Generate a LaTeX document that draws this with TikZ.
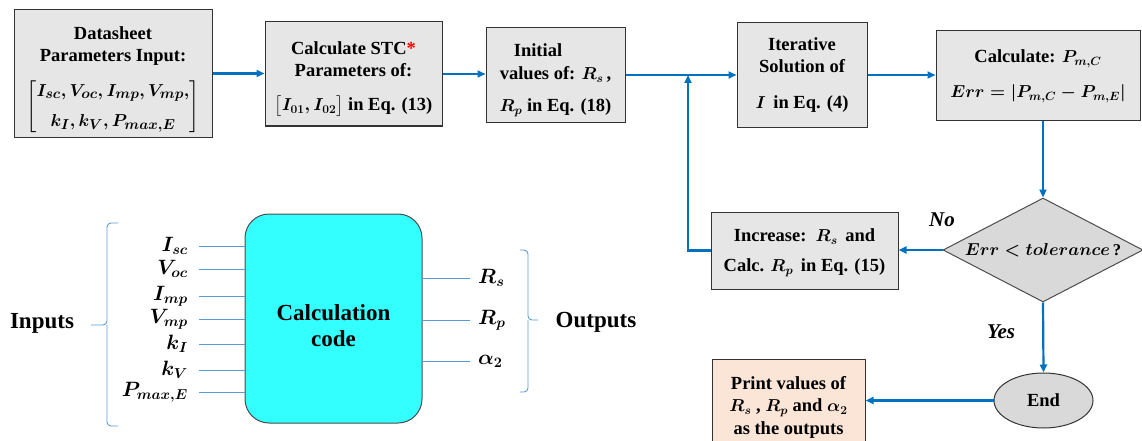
\documentclass[tikz,border=0pt]{standalone}
\usepackage{fontspec}
\setmainfont{Liberation Serif}
\usepackage{amsmath}
\usepackage{bm}
\usetikzlibrary{shapes.geometric,arrows.meta,calc}
\definecolor{flowblue}{RGB}{0,112,192}
\definecolor{boxgray}{RGB}{230,230,230}
\definecolor{diagray}{RGB}{217,217,217}
\definecolor{peach}{RGB}{251,229,214}
\definecolor{cyanbox}{RGB}{51,255,255}
\definecolor{thinblue}{RGB}{91,155,213}
\begin{document}
\begin{tikzpicture}[x=1pt,y=-1pt,
  font=\fontsize{18.5}{22}\selectfont\bfseries\boldmath,
  box/.style={draw=black!80, line width=1pt, fill=boxgray, align=center, inner sep=0pt},
  flow/.style={draw=flowblue, line width=2.2pt, -{Triangle[length=8pt,width=7pt]}},
  thinline/.style={draw=thinblue, line width=0.9pt},
  lbl/.style={inner sep=0pt, font=\fontsize{19.5}{22}\selectfont\boldmath},
  big/.style={font=\fontsize{23}{26}\selectfont\bfseries, align=center},
  yesno/.style={font=\fontsize{21}{24}\selectfont\bfseries\itshape}
]
\useasboundingbox (0,0) rectangle (1142,441);

% ---- flowchart ----
\node[box, minimum width=198pt, minimum height=127pt] (ds) at (113,73.5)
  {\rule{0pt}{25pt}Datasheet\\Parameters Input:\\[14pt]{\fontsize{19}{23}\selectfont$\left[\begin{array}{@{}c@{}}\bm{I_{sc},V_{oc},I_{mp},V_{mp},}\\[7pt]\bm{k_I,k_V,P_{max,E}}\end{array}\right]$}};
\node[box, minimum width=177pt, minimum height=104pt] (stc) at (353.5,74)
  {\rule{0pt}{23pt}Calculate STC\textcolor{red}{*}\\Parameters of:\\[12pt]$\bigl[\bm{I_{01}},\bm{I_{02}}\bigr]$ in Eq. (13)};
\node[box, minimum width=139pt, minimum height=95pt] (init) at (555.5,75)
  {\rule{0pt}{23pt}\hspace*{-35pt}Initial\\[1pt]values of: $\bm{R_s}$\,,\\[10pt]$\bm{R_p}$ in Eq. (18)};
\node[box, minimum width=130pt, minimum height=104pt] (iter) at (802,75)
  {Iterative\\Solution of\\[14pt]$\bm{I}$\, in Eq. (4)};
\node[box, minimum width=204pt, minimum height=90pt] (calc) at (1038,76)
  {Calculate: $\bm{P_{m,C}}$\\[13pt]$\bm{Err=|P_{m,C}-P_{m,E}|}$};
\node[box, minimum width=187pt, minimum height=77pt] (inc) at (804.5,250.5)
  {\rule{0pt}{17pt}Increase:\, $\bm{R_s}$\, and\\[8pt]Calc. $\bm{R_p}$\, in Eq. (15)};
\node[diamond, shape aspect=1.92, draw=black!70, line width=1pt, fill=diagray, minimum width=200pt, minimum height=104pt, inner sep=0pt,
  font=\fontsize{16.5}{20}\selectfont\bfseries\boldmath] (dia) at (1043,250) {$\bm{Err < tolerance}$\,?};
\node[ellipse, draw=black!80, line width=1pt, fill=diagray, minimum width=99pt, minimum height=55pt] (endn) at (1043.5,400.5) {End};
\node[box, fill=peach, minimum width=153pt, minimum height=96pt, font=\fontsize{18.5}{22.5}\selectfont\bfseries\boldmath] (print) at (788.5,407)
  {Print values of\\$\bm{R_s}$ , $\bm{R_p}$ and $\bm{\alpha_2}$\\as the outputs};

\node[yesno] (no) at (942,220) {No};
\node[yesno] (yes) at (1001,332) {Yes};

\coordinate (junc) at (688,75);
\draw[flow] (ds.east) -- (ds.east -| stc.west);
\draw[flow] (stc.east) -- (stc.east -| init.west);
\draw[flow] (init.east) -- (iter.west);
\draw[flow] (inc.west) -| (junc);
\draw[flow] (iter.east) -- (iter.east -| calc.west);
\draw[flow] (calc.south -| dia.north) -- (dia.north);
\draw[flow] (dia.west) -- (dia.west -| inc.east);
\draw[flow] (dia.south) -- (endn.north);
\draw[flow] (endn.west) -- (endn.west -| print.east);

% ---- block diagram ----
\node[draw=black!70, line width=1pt, fill=cyanbox, rounded corners=24pt, minimum width=177pt, minimum height=209pt] (code) at (333.5,318.5) {};
\node[big] (codetxt) at (333.5,326) {Calculation\\code};

\foreach \yy/\lab/\nm in {246/{I_{sc}}/isc, 269/{V_{oc}}/voc, 296/{I_{mp}}/imp, 319/{V_{mp}}/vmp, 344/{k_I}/ki, 370/{k_V}/kv, 392/{P_{max,E}}/pmax}{
  \node[lbl, anchor=east] (\nm) at (188,\yy) {$\bm{\lab}$};
  \draw[thinline] ([xshift=11pt]\nm.east) -- (\nm.east -| code.west);
}
\foreach \yy/\lab/\nm in {278/{R_s}/rs, 320/{R_p}/rp, 361/{\alpha_2}/al}{
  \node[lbl, anchor=west] (\nm) at (478,\yy) {$\bm{\lab}$};
  \draw[thinline] (\nm.west -| code.east) -- ([xshift=-8pt]\nm.west);
}
% braces
\draw[thinline, rounded corners=4pt] (118,223) -- (107,223) -- (107,325) -- (91,325);
\draw[thinline, rounded corners=4pt] (118,426) -- (107,426) -- (107,325);
\draw[thinline, rounded corners=4pt] (520,250) -- (528,250) -- (528,320) -- (538,320);
\draw[thinline, rounded corners=4pt] (520,392) -- (528,392) -- (528,320);
\node[big] (inputs) at (42,323) {Inputs};
\node[big] (outputs) at (596,322) {Outputs};
\end{tikzpicture}
\end{document}
